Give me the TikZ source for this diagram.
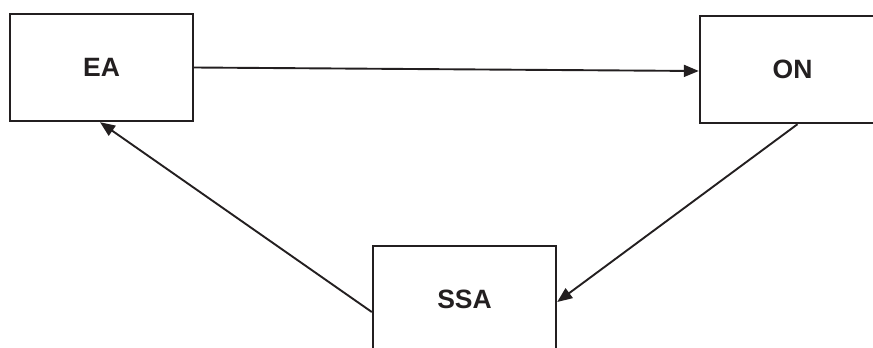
\documentclass[tikz,border=0pt]{standalone}
\usepackage{fontspec}
\setmainfont{Liberation Sans}
\usetikzlibrary{arrows.meta}
\definecolor{ink}{HTML}{231F20}
\begin{document}
\begin{tikzpicture}[x=1pt,y=-1pt,
  box/.style={draw=ink,line width=2.4pt,minimum width=183pt,minimum height=107pt,inner sep=0pt,
    font=\fontsize{26.5}{30}\selectfont\bfseries,text=ink},
  link/.style={draw=ink,line width=1.9pt,-{Triangle[length=15pt,width=12pt]}}]
\useasboundingbox (0,0) rectangle (873,348);
\clip (0,0) rectangle (873,348);
\node[box] (EA) at (101.5,67.5) {EA};
\node[box,minimum width=185pt] (ON) at (792.5,69.5) {ON};
\node[box] (SSA) at (464.5,299.5) {SSA};
\draw[link] (EA.east) -- ([yshift=-1.5pt]ON.west);
\draw[link] ([xshift=5pt]ON.south) -- ([yshift=-2.5pt]SSA.east);
\draw[link] ([yshift=-12.5pt]SSA.west) -- ([xshift=-1.5pt]EA.south);
\end{tikzpicture}
\end{document}
